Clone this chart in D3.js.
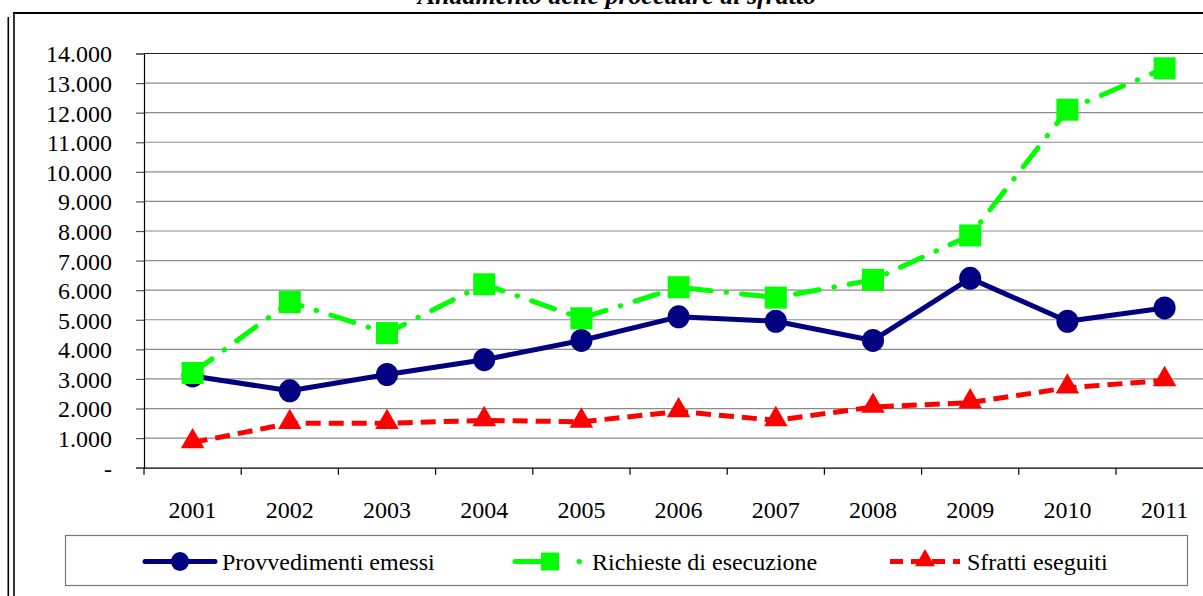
<!DOCTYPE html>
<html>
<head>
<meta charset="utf-8">
<script src="https://cdn.jsdelivr.net/npm/d3@7"></script>
<style>
  body { margin: 0; background: #fff; }
  svg { display: block; font-family: "Liberation Serif", "Times New Roman", serif; }
  svg text { font-family: "Liberation Serif", "Times New Roman", serif !important; }
</style>
</head>
<body>
<svg width="1203" height="596"></svg>
<script>
// @ chart data
const years = ['2001','2002','2003','2004','2005','2006','2007','2008','2009','2010','2011'];
const provvedimenti = [3100, 2600, 3150, 3650, 4300, 5100, 4950, 4300, 6400, 4950, 5400];
const richieste = [3200, 5600, 4550, 6200, 5050, 6100, 5750, 6350, 7850, 12100, 13500];
const sfratti = [850, 1500, 1500, 1600, 1550, 1900, 1600, 2050, 2200, 2700, 2950];
const yTicks = [0, 1000, 2000, 3000, 4000, 5000, 6000, 7000, 8000, 9000, 10000, 11000, 12000, 13000, 14000];
const seriesNames = ['Provvedimenti emessi', 'Richieste di esecuzione', 'Sfratti eseguiti'];
const titleText = 'Andamento delle procedure di sfratto';

const FONT = '"Liberation Serif", "Times New Roman", serif';

function init() {
  const svg = d3.select("svg");

  // plot runs past the right edge of the window (cropped like the original)
  const step = 97.2;
  const x = d3.scaleBand().domain(years).range([144, 144 + 11 * step]);
  const y = d3.scaleLinear().domain([0, 14000]).range([467.7, 53.5]);

  // ======= FRAME & TITLE ========
  svg.append("text")
    .attr("x", 617).attr("y", 4)
    .attr("text-anchor", "middle")
    .style("font-size", "26px").style("font-weight", "bold").style("font-style", "italic")
    .text(titleText);

  svg.append("line").attr("x1", 13).attr("x2", 1203).attr("y1", 13).attr("y2", 13)
    .attr("stroke", "#000").attr("stroke-width", 2.2);
  svg.append("line").attr("x1", 14).attr("x2", 14).attr("y1", 12).attr("y2", 596)
    .attr("stroke", "#000").attr("stroke-width", 1.6);
  svg.append("line").attr("x1", 8.3).attr("x2", 8.3).attr("y1", 17).attr("y2", 596)
    .attr("stroke", "#000").attr("stroke-width", 1.6);

  // ======= GRID ========
  svg.append("g").selectAll("line")
    .data(yTicks.filter(d => d > 0 && d < 14000))
    .enter().append("line")
    .attr("x1", 144).attr("x2", 1203)
    .attr("y1", d => y(d)).attr("y2", d => y(d))
    .attr("stroke", "#8a8a8a").attr("stroke-width", 1.2);

  svg.append("line").attr("x1", 144).attr("x2", 1203)
    .attr("y1", y(14000)).attr("y2", y(14000))
    .attr("stroke", "#222").attr("stroke-width", 1.2);

  // @ y axis
  const yAxis = d3.axisLeft(y).tickValues(yTicks).tickSize(8)
    .tickFormat(d => d === 0 ? "-" : d3.format(",")(d).replace(/,/g, "."));
  const gy = svg.append("g").attr("transform", "translate(144,0)").call(yAxis)
    .attr("font-family", FONT);
  gy.select(".domain").attr("stroke", "#000").attr("stroke-width", 1.2);
  gy.selectAll(".tick line").attr("stroke", "#555").attr("stroke-width", 1.2);
  gy.selectAll(".tick text").style("font-size", "24px").style("font-family", FONT).attr("fill", "#000")
    .attr("x", -32).attr("dy", "0.35em");

  // @ x axis, ticks between the categories
  const xAxis = d3.axisBottom(x).tickSize(0).tickPadding(33);
  const gx = svg.append("g").attr("transform", `translate(0,${y(0)})`).call(xAxis)
    .attr("font-family", FONT);
  gx.select(".domain").attr("stroke", "#000").attr("stroke-width", 1.2);
  gx.selectAll(".tick text").style("font-size", "24px").style("font-family", FONT).attr("fill", "#000");
  gx.append("g").selectAll("line")
    .data(d3.range(12))
    .enter().append("line")
    .attr("x1", i => 144 + i * x.step()).attr("x2", i => 144 + i * x.step())
    .attr("y1", 0).attr("y2", 7)
    .attr("stroke", "#000").attr("stroke-width", 1.2);

  // ======= SERIES ========
  const cx = (d, i) => x(years[i]) + x.bandwidth() / 2;
  const line = d3.line().x(cx).y(d => y(d));

  svg.append("path").datum(provvedimenti)
    .attr("d", line).attr("fill", "none")
    .attr("stroke", "#000080").attr("stroke-width", 5).attr("stroke-linejoin", "round");
  svg.append("g").selectAll("ellipse")
    .data(provvedimenti).enter().append("ellipse")
    .attr("cx", cx).attr("cy", d => y(d)).attr("rx", 11).attr("ry", 11.5)
    .attr("fill", "#000080");

  svg.append("path").datum(richieste)
    .attr("d", line).attr("fill", "none")
    .attr("stroke", "#00ff00").attr("stroke-width", 5)
    .attr("stroke-linecap", "round").attr("stroke-dasharray", "24 15 0.5 15");
  svg.append("g").selectAll("rect")
    .data(richieste).enter().append("rect")
    .attr("x", (d, i) => cx(d, i) - 11).attr("y", d => y(d) - 11)
    .attr("width", 22).attr("height", 22)
    .attr("fill", "#00ff00");

  const tri = d3.symbol().type(d3.symbolTriangle).size(240);
  svg.append("path").datum(sfratti)
    .attr("d", line).attr("fill", "none")
    .attr("stroke", "#ff0000").attr("stroke-width", 5).attr("stroke-dasharray", "15 8");
  svg.append("g").selectAll("path")
    .data(sfratti).enter().append("path")
    .attr("d", tri)
    .attr("transform", (d, i) => `translate(${cx(d, i)},${y(d) - 1})`)
    .attr("fill", "#ff0000");

  // ======= LEGEND ========
  svg.append("rect").attr("x", 65.5).attr("y", 535.5).attr("width", 1122).attr("height", 50)
    .attr("fill", "none").attr("stroke", "#777").attr("stroke-width", 1.2);

  const legX = [145, 515, 890];
  const ly = 561.5;
  // blue
  svg.append("line").attr("x1", legX[0]).attr("x2", legX[0] + 70).attr("y1", ly).attr("y2", ly)
    .attr("stroke", "#000080").attr("stroke-width", 5).attr("stroke-linecap", "round");
  svg.append("ellipse").attr("cx", legX[0] + 35).attr("cy", ly).attr("rx", 9).attr("ry", 9.5).attr("fill", "#000080");
  // green
  svg.append("line").attr("x1", legX[1]).attr("x2", legX[1] + 70).attr("y1", ly).attr("y2", ly)
    .attr("stroke", "#00ff00").attr("stroke-width", 5).attr("stroke-linecap", "round")
    .attr("stroke-dasharray", "40 24 0.5 30");
  svg.append("rect").attr("x", legX[1] + 26).attr("y", ly - 9).attr("width", 18).attr("height", 18).attr("fill", "#00ff00");
  // red
  svg.append("line").attr("x1", legX[2]).attr("x2", legX[2] + 70).attr("y1", ly).attr("y2", ly)
    .attr("stroke", "#ff0000").attr("stroke-width", 5).attr("stroke-dasharray", "13 8");
  svg.append("path").attr("d", d3.symbol().type(d3.symbolTriangle).size(170))
    .attr("transform", `translate(${legX[2] + 35},${ly - 1})`).attr("fill", "#ff0000");

  svg.append("g").selectAll("text")
    .data(seriesNames).enter().append("text")
    .attr("x", (d, i) => legX[i] + 77).attr("y", ly).attr("dy", "0.35em")
    .style("font-size", "24px").attr("fill", "#000")
    .text(d => d);
}

init();
</script>
</body>
</html>
